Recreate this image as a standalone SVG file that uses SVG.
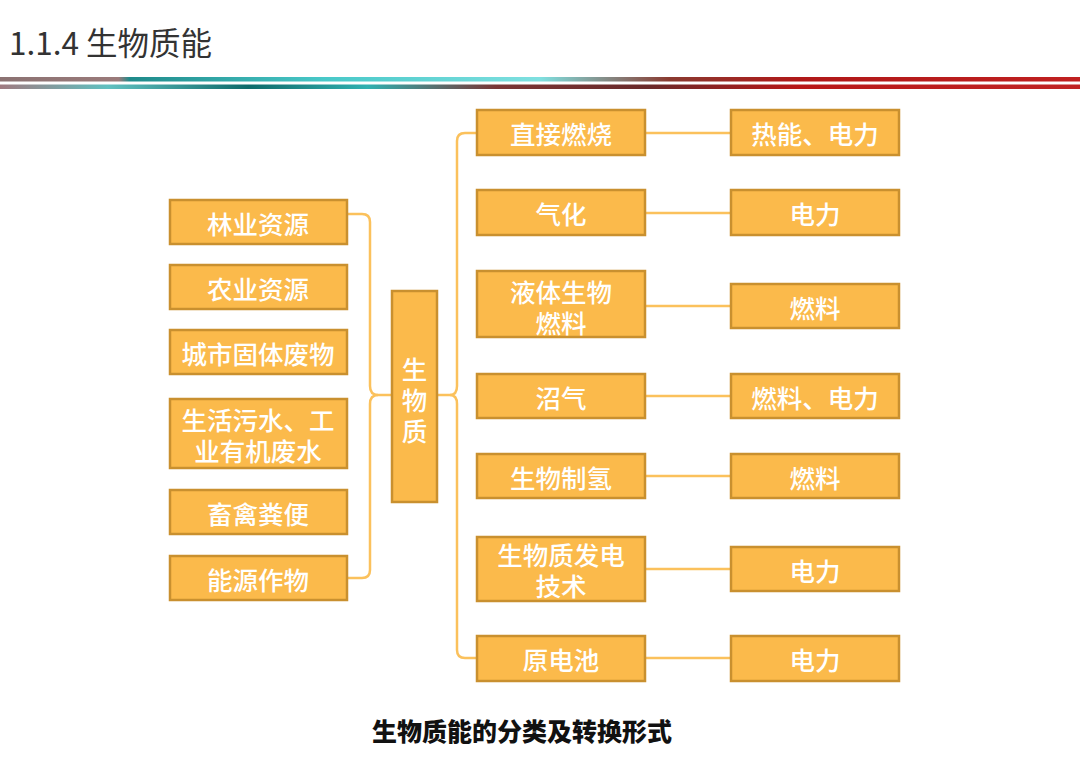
<svg xmlns="http://www.w3.org/2000/svg" width="1080" height="764" viewBox="0 0 1080 764">
<defs>
<linearGradient id="s1" x1="0" y1="0" x2="1080" y2="0" gradientUnits="userSpaceOnUse">
<stop offset="0" stop-color="#8b7272"/>
<stop offset="0.11" stop-color="#9a7a7a"/>
<stop offset="0.12" stop-color="#1f8a8a"/>
<stop offset="0.3" stop-color="#48c8c8"/>
<stop offset="0.5" stop-color="#7fe0e0"/>
<stop offset="0.62" stop-color="#8a3a30"/>
<stop offset="0.74" stop-color="#b01818"/>
<stop offset="1" stop-color="#c02020"/>
</linearGradient>
<linearGradient id="s2" x1="0" y1="0" x2="1080" y2="0" gradientUnits="userSpaceOnUse">
<stop offset="0" stop-color="#a07a80"/>
<stop offset="0.1" stop-color="#60c0c0"/>
<stop offset="0.23" stop-color="#0e6a6a"/>
<stop offset="0.34" stop-color="#30b0b0"/>
<stop offset="0.46" stop-color="#7a3535"/>
<stop offset="0.6" stop-color="#6a2a2a"/>
<stop offset="0.74" stop-color="#b81818"/>
<stop offset="1" stop-color="#c02424"/>
</linearGradient>
<style>
.box{fill:#FBBA4B;stroke:#C9902F;stroke-width:2.5}
.t{font-family:"Noto Sans CJK SC","Noto Sans",sans-serif;font-size:25.5px;font-weight:500;fill:#ffffff;text-anchor:middle;dominant-baseline:central}
.c{fill:none;stroke:#FBC15C;stroke-width:2.5}
</style>
</defs>
<rect width="1080" height="764" fill="#ffffff"/>
<text x="9" y="55" font-family="'Noto Sans CJK SC','Noto Sans',sans-serif" font-size="31.5" fill="#333333">1.1.4 生物质能</text>
<rect x="0" y="77" width="1080" height="4.5" fill="url(#s1)"/>
<rect x="0" y="84.5" width="1080" height="4.5" fill="url(#s2)"/>

<g id="connectors">
<path class="c" d="M347,214 H362 Q370,214 370,222 V386 Q370,395 378,395 H392"/>
<path class="c" d="M347,578 H362 Q370,578 370,570 V404 Q370,395 378,395"/>
<path class="c" d="M437,395 H450 Q457,395 457,386 V141 Q457,133 465,133 H477"/>
<path class="c" d="M450,395 Q457,395 457,404 V650 Q457,658 465,658 H477"/>
<line class="c" x1="645" y1="133" x2="731" y2="133"/>
<line class="c" x1="645" y1="213" x2="731" y2="213"/>
<line class="c" x1="645" y1="306" x2="731" y2="306"/>
<line class="c" x1="645" y1="396" x2="731" y2="396"/>
<line class="c" x1="645" y1="476" x2="731" y2="476"/>
<line class="c" x1="645" y1="569" x2="731" y2="569"/>
<line class="c" x1="645" y1="658" x2="731" y2="658"/>
</g>

<g id="n-forest"><rect class="box" x="170" y="200" width="177" height="44"/><text class="t" x="258" y="222">林业资源</text></g>
<g id="n-agri"><rect class="box" x="170" y="265" width="177" height="44"/><text class="t" x="258" y="287">农业资源</text></g>
<g id="n-msw"><rect class="box" x="170" y="330" width="177" height="44"/><text class="t" x="258" y="352">城市固体废物</text></g>
<g id="n-sewage"><rect class="box" x="170" y="399" width="177" height="69"/><text class="t" x="258" y="418">生活污水、工</text><text class="t" x="258" y="449">业有机废水</text></g>
<g id="n-manure"><rect class="box" x="170" y="490" width="177" height="44"/><text class="t" x="258" y="512">畜禽粪便</text></g>
<g id="n-crops"><rect class="box" x="170" y="556" width="177" height="44"/><text class="t" x="258" y="578">能源作物</text></g>

<g id="n-biomass"><rect class="box" x="392" y="291" width="45" height="211"/><text class="t" x="414.5" y="367">生</text><text class="t" x="414.5" y="398">物</text><text class="t" x="414.5" y="429">质</text></g>

<g id="n-combust"><rect class="box" x="477" y="110" width="168" height="45"/><text class="t" x="561" y="132">直接燃烧</text></g>
<g id="n-gasify"><rect class="box" x="477" y="190" width="168" height="45"/><text class="t" x="561" y="212">气化</text></g>
<g id="n-liquid"><rect class="box" x="477" y="271" width="168" height="66"/><text class="t" x="561" y="290">液体生物</text><text class="t" x="561" y="321">燃料</text></g>
<g id="n-biogas"><rect class="box" x="477" y="374" width="168" height="44"/><text class="t" x="561" y="396">沼气</text></g>
<g id="n-h2"><rect class="box" x="477" y="454" width="168" height="44"/><text class="t" x="561" y="476">生物制氢</text></g>
<g id="n-power"><rect class="box" x="477" y="537" width="168" height="64"/><text class="t" x="561" y="553">生物质发电</text><text class="t" x="561" y="584">技术</text></g>
<g id="n-cell"><rect class="box" x="477" y="636" width="168" height="45"/><text class="t" x="561" y="658">原电池</text></g>

<g id="o1"><rect class="box" x="731" y="110" width="168" height="45"/><text class="t" x="815" y="132">热能、电力</text></g>
<g id="o2"><rect class="box" x="731" y="190" width="168" height="45"/><text class="t" x="815" y="212">电力</text></g>
<g id="o3"><rect class="box" x="731" y="284" width="168" height="44"/><text class="t" x="815" y="306">燃料</text></g>
<g id="o4"><rect class="box" x="731" y="374" width="168" height="44"/><text class="t" x="815" y="396">燃料、电力</text></g>
<g id="o5"><rect class="box" x="731" y="454" width="168" height="44"/><text class="t" x="815" y="476">燃料</text></g>
<g id="o6"><rect class="box" x="731" y="547" width="168" height="44"/><text class="t" x="815" y="569">电力</text></g>
<g id="o7"><rect class="box" x="731" y="636" width="168" height="45"/><text class="t" x="815" y="658">电力</text></g>

<text x="522" y="741" font-family="'Noto Sans CJK SC','Noto Sans',sans-serif" font-size="25" font-weight="900" fill="#111111" text-anchor="middle">生物质能的分类及转换形式</text>
</svg>
